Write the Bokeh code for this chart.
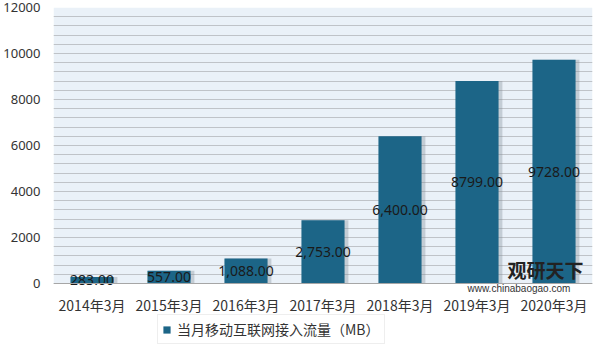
from bokeh.plotting import figure
from bokeh.models import (ColumnDataSource, Legend, LegendItem, Label, FixedTicker,
                          BoxAnnotation, Span)
from bokeh.transform import dodge
from bokeh.embed import file_html
from bokeh.resources import INLINE

categories = ["2014年3月", "2015年3月", "2016年3月", "2017年3月", "2018年3月", "2019年3月", "2020年3月"]
values = [283, 557, 1088, 2753, 6400, 8799, 9728]
labels = ["283.00", "557.00", "1,088.00", "2,753.00", "6,400.00", "8799.00", "9728.00"]
series_name = "当月移动互联网接入流量（MB）"
y_ticks = [0, 2000, 4000, 6000, 8000, 10000, 12000]
Y_MAX = 12000

BAR = "#1C6587"

# layout in pixels: value area 276 px tall, 65 px of frame below the zero line
PX = Y_MAX / 276.0
Y_MIN = -65 * PX
LABEL_Y = -21 * PX

src = ColumnDataSource(dict(cat=categories, val=values, lab=labels,
                            mid=[v / 2 for v in values],
                            ly=[LABEL_Y] * len(categories)))

p = figure(x_range=categories, y_range=(Y_MIN, Y_MAX), width=593, height=350,
           output_backend="svg", toolbar_location=None,
           min_border_left=53, min_border_right=1, min_border_top=7, min_border_bottom=2)
p.background_fill_color = "white"
p.border_fill_color = "white"
p.outline_line_color = None

p.add_layout(BoxAnnotation(bottom=0, top=Y_MAX, fill_color="#EAF1F8", fill_alpha=1,
                           line_color=None, level="image"))

p.vbar(x=dodge("cat", 0.03, range=p.x_range), top="val", width=0.6, source=src,
       fill_color="#7f8a94", fill_alpha=0.35, line_color=None)
r = p.vbar(x="cat", top="val", width=0.56, source=src, fill_color=BAR, line_color=None)

p.text(x="cat", y="mid", text="lab", source=src, text_align="center", text_baseline="middle",
       text_font_size="14px", text_color="#1a1a1a", text_font={"value": "Noto Sans"})

# category labels under the zero line
p.text(x="cat", y="ly", text="cat", source=src, text_align="center", text_baseline="middle",
       text_font_size="14px", text_color="#333333", text_font={"value": "Noto Sans CJK SC"})

p.add_layout(Span(location=0, dimension="width", line_color="#A6A6A6", line_width=1))

p.ygrid.ticker = FixedTicker(ticks=list(range(0, Y_MAX + 1, 400)))
p.ygrid.grid_line_color = "#BFC3C8"
p.ygrid.grid_line_width = 1
p.xgrid.grid_line_color = None

p.xaxis.visible = False

p.yaxis.ticker = FixedTicker(ticks=y_ticks)
p.yaxis.axis_line_color = None
p.yaxis.major_tick_line_color = None
p.yaxis.minor_tick_line_color = None
p.yaxis.major_label_standoff = 7
p.yaxis.major_label_text_font_size = "13px"
p.yaxis.major_label_text_color = "#333333"
p.yaxis.major_label_text_font = "Noto Sans"

p.add_layout(Label(x=454, y=66, x_units="screen", y_units="screen", text="观研天下",
                   text_font="Noto Sans CJK SC", text_font_style="bold",
                   text_font_size="19px", text_color="#222222"))
p.add_layout(Label(x=414, y=55, x_units="screen", y_units="screen", text="www.chinabaogao.com",
                   text_font="Liberation Sans", text_font_size="10px", text_color="#333333"))

legend = Legend(items=[LegendItem(label=series_name, renderers=[r])],
                location=(104, 4), orientation="horizontal",
                label_text_font="Noto Sans CJK SC", label_text_font_size="14px",
                label_text_color="#333333", glyph_width=9, glyph_height=9,
                border_line_color="#DDDDDD", border_line_width=1,
                background_fill_color="white",
                padding=4, margin=0, label_standoff=6, label_height=14)
p.add_layout(legend, "center")

open("out.html", "w").write(file_html(p, INLINE))
